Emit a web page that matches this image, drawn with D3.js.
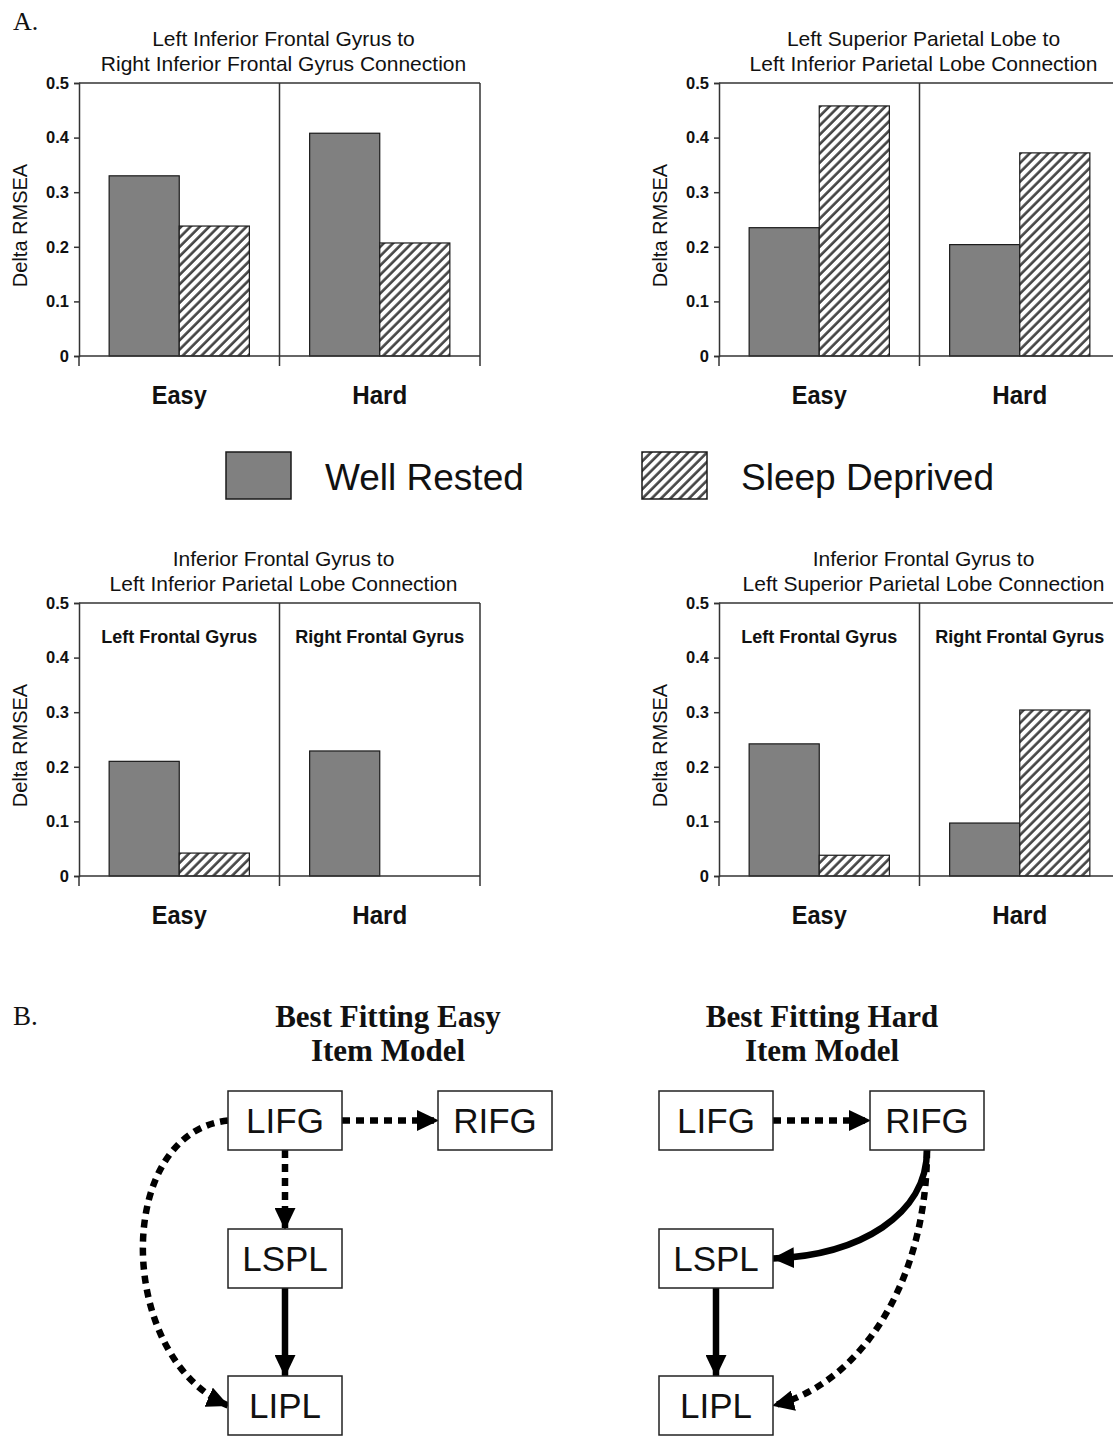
<!DOCTYPE html>
<html>
<head>
<meta charset="utf-8">
<script src="https://cdn.jsdelivr.net/npm/d3@7"></script>
<style>
  body { margin: 0; background: #fff; }
  svg { display: block; }
  text { font-family: "Liberation Sans", Arial, Helvetica, sans-serif; fill: #111; }
  .serif { font-family: "Liberation Serif", "Times New Roman", serif; }
</style>
</head>
<body>
<div id="chart"></div>
<script>
// ---- data ----
const groups = ['Easy', 'Hard'];
const series = ['Well Rested', 'Sleep Deprived'];
const yTicks = [0, 0.1, 0.2, 0.3, 0.4, 0.5];

const panelTitles = [
  ['Left Inferior Frontal Gyrus to', 'Right Inferior Frontal Gyrus Connection'],
  ['Left Superior Parietal Lobe to', 'Left Inferior Parietal Lobe Connection'],
  ['Inferior Frontal Gyrus to', 'Left Inferior Parietal Lobe Connection'],
  ['Inferior Frontal Gyrus to', 'Left Superior Parietal Lobe Connection']
];
const panelSubLabels = [
  null,
  null,
  ['Left Frontal Gyrus', 'Right Frontal Gyrus'],
  ['Left Frontal Gyrus', 'Right Frontal Gyrus']
];
// [Easy, Hard] per panel
const wellRested    = [[0.330, 0.408], [0.235, 0.204], [0.210, 0.229], [0.242, 0.097]];
const sleepDeprived = [[0.238, 0.207], [0.458, 0.372], [0.042, 0.000], [0.038, 0.304]];

// path model diagrams
const modelTitles = [['Best Fitting Easy', 'Item Model'], ['Best Fitting Hard', 'Item Model']];
const nodeNames = ['LIFG', 'RIFG', 'LSPL', 'LIPL'];
const nodeCol = { LIFG: 0, RIFG: 1, LSPL: 0, LIPL: 0 };
const nodeRow = { LIFG: 0, RIFG: 0, LSPL: 1, LIPL: 2 };
const easyEdges = [
  ['LIFG', 'RIFG', 'dotted'],
  ['LIFG', 'LSPL', 'dotted'],
  ['LSPL', 'LIPL', 'solid'],
  ['LIFG', 'LIPL', 'dotted']
];
const hardEdges = [
  ['LIFG', 'RIFG', 'dotted'],
  ['RIFG', 'LSPL', 'solid'],
  ['RIFG', 'LIPL', 'dotted'],
  ['LSPL', 'LIPL', 'solid']
];

// ---- drawing ----
const W = 1113, H = 1436;
const svg = d3.select('#chart').append('svg')
  .attr('width', W).attr('height', H)
  .attr('viewBox', `0 0 ${W} ${H}`);

svg.append('rect').attr('width', W).attr('height', H).attr('fill', '#fff');

const defs = svg.append('defs');
const hp = 6.6; // hatch period (perpendicular)
defs.append('pattern')
  .attr('id', 'hatch')
  .attr('patternUnits', 'userSpaceOnUse')
  .attr('width', hp).attr('height', hp)
  .attr('patternTransform', 'rotate(45)')
  .call(p => p.append('rect').attr('width', hp).attr('height', hp).attr('fill', '#fff'))
  .append('line')
  .attr('x1', 1.5).attr('y1', 0).attr('x2', 1.5).attr('y2', hp)
  .attr('stroke', '#444').attr('stroke-width', 2.6);

defs.append('marker')
  .attr('id', 'arrow')
  .attr('markerUnits', 'userSpaceOnUse')
  .attr('viewBox', '0 0 22 21')
  .attr('refX', 21).attr('refY', 10.5)
  .attr('markerWidth', 22).attr('markerHeight', 21)
  .attr('orient', 'auto')
  .append('path')
  .attr('d', 'M0,0 L22,10.5 L0,21 Z')
  .attr('fill', '#000');

const fillFor = s => s === series[0] ? '#808080' : 'url(#hatch)';

// panel-letter labels
svg.append('text').attr('class', 'serif').attr('x', 13).attr('y', 30)
  .attr('font-size', 26).text('A.');
svg.append('text').attr('class', 'serif').attr('x', 13).attr('y', 1025)
  .attr('font-size', 27).text('B.');

const panelLayout = [
  { x0: 79, top: 83 }, { x0: 719, top: 83 },
  { x0: 79, top: 603 }, { x0: 719, top: 603 }
];
const plotW = 401, plotH = 273;

panelLayout.forEach((pl, i) => {
  const g = svg.append('g');
  const x = d3.scaleBand().domain(groups).range([pl.x0, pl.x0 + plotW]);
  const xs = d3.scaleBand().domain(series).range([0, x.bandwidth()])
    .paddingInner(0).paddingOuter(0.43);
  const y = d3.scaleLinear().domain([0, 0.5]).range([pl.top + plotH, pl.top]);
  const base = y(0);

  // frame: top, right and divider
  const frame = g.append('g').attr('stroke', '#333').attr('stroke-width', 1.5);
  frame.append('line').attr('x1', pl.x0).attr('x2', pl.x0 + plotW).attr('y1', y(0.5)).attr('y2', y(0.5));
  frame.append('line').attr('x1', pl.x0 + plotW).attr('x2', pl.x0 + plotW).attr('y1', y(0.5)).attr('y2', base);
  frame.append('line').attr('x1', x('Hard')).attr('x2', x('Hard')).attr('y1', y(0.5)).attr('y2', base);

  // bars
  const rows = groups.map((grp, gi) => ({
    grp, values: [wellRested[i][gi], sleepDeprived[i][gi]]
  }));
  g.append('g').selectAll('g').data(rows).join('g')
    .attr('transform', d => `translate(${x(d.grp)},0)`)
    .selectAll('rect')
    .data(d => d.values.map((v, si) => ({ s: series[si], v })).filter(e => e.v > 0))
    .join('rect')
    .attr('x', d => xs(d.s))
    .attr('width', xs.bandwidth())
    .attr('y', d => y(d.v))
    .attr('height', d => base - y(d.v))
    .attr('fill', d => fillFor(d.s))
    .attr('stroke', '#1a1a1a')
    .attr('stroke-width', 1.2);

  // y axis
  const yAxis = g.append('g')
    .attr('transform', `translate(${pl.x0},0)`)
    .call(d3.axisLeft(y).tickValues(yTicks).tickSize(5).tickPadding(5)
      .tickFormat(d => d === 0 ? '0' : d3.format('.1f')(d)));
  yAxis.select('.domain').attr('stroke', '#333').attr('stroke-width', 1.5);
  yAxis.selectAll('.tick line').attr('stroke', '#333').attr('stroke-width', 1.5);
  yAxis.selectAll('.tick text')
    .style('font-size', '16.5px').style('font-weight', 'bold')
    .attr('fill', '#111');

  // x baseline with category separators
  const xa = g.append('g').attr('stroke', '#333').attr('stroke-width', 1.5);
  xa.append('line').attr('x1', pl.x0).attr('x2', pl.x0 + plotW).attr('y1', base).attr('y2', base);
  xa.selectAll('line.sep').data([pl.x0, x('Hard'), pl.x0 + plotW]).join('line')
    .attr('class', 'sep')
    .attr('x1', d => d).attr('x2', d => d).attr('y1', base).attr('y2', base + 10);

  g.selectAll('text.cat').data(groups).join('text')
    .attr('class', 'cat')
    .attr('x', d => x(d) + x.bandwidth() / 2)
    .attr('y', base + 48)
    .attr('text-anchor', 'middle')
    .attr('font-size', 25).attr('font-weight', 'bold')
    .attr('textLength', 55).attr('lengthAdjust', 'spacingAndGlyphs')
    .text(d => d);

  // axis title
  g.append('text')
    .attr('transform', `translate(${pl.x0 - 52},${(y(0) + y(0.5)) / 2 + 6}) rotate(-90)`)
    .attr('text-anchor', 'middle')
    .attr('font-size', 20)
    .text('Delta RMSEA');

  // chart title
  const cx = pl.x0 + plotW / 2 + 4;
  g.selectAll('text.title').data(panelTitles[i]).join('text')
    .attr('class', 'title')
    .attr('x', cx)
    .attr('y', (d, li) => pl.top - 37 + li * 25)
    .attr('text-anchor', 'middle')
    .attr('font-size', 21)
    .attr('fill', '#222')
    .text(d => d);

  if (panelSubLabels[i]) {
    g.selectAll('text.sub').data(panelSubLabels[i]).join('text')
      .attr('class', 'sub')
      .attr('x', (d, gi) => x(groups[gi]) + x.bandwidth() / 2)
      .attr('y', pl.top + 40)
      .attr('text-anchor', 'middle')
      .attr('font-size', 18).attr('font-weight', 'bold')
      .text(d => d);
  }
});

// legend
const legend = svg.append('g');
const legendX = d3.scaleOrdinal().domain(series).range([226, 642]);
legend.selectAll('rect').data(series).join('rect')
  .attr('x', d => legendX(d)).attr('y', 452)
  .attr('width', 65).attr('height', 47)
  .attr('fill', d => fillFor(d))
  .attr('stroke', '#1a1a1a').attr('stroke-width', 1.5);
legend.selectAll('text').data(series).join('text')
  .attr('x', d => legendX(d) + 99).attr('y', 490)
  .attr('font-size', 37)
  .text(d => d);

// path diagrams
const boxW = 114, boxH = 59;
const diagramCols = [[228, 438], [659, 870]];
const rowY = d3.scaleOrdinal().domain([0, 1, 2]).range([1091, 1229, 1376]);

function edgePath(s, t) {
  if (nodeRow[s.id] === nodeRow[t.id]) {
    return `M${s.x + boxW},${s.cy} L${t.x},${t.cy}`;
  }
  if (nodeCol[s.id] === nodeCol[t.id]) {
    if (nodeRow[t.id] - nodeRow[s.id] === 1) {
      return `M${s.cx},${s.y + boxH} L${t.cx},${t.y}`;
    }
    // loop round the left side
    return `M${s.x},${s.cy} C${s.x - 115},${s.cy + 12} ${t.x - 112},${t.cy - 48} ${t.x},${t.cy}`;
  }
  // from right column down to left column
  const sx = s.cx, sy = s.y + boxH, tx = t.x + boxW, ty = t.cy;
  const dy = ty - sy;
  const k1 = nodeRow[t.id] - nodeRow[s.id] === 1 ? 0.6 : 0.52;
  const k2 = nodeRow[t.id] - nodeRow[s.id] === 1 ? 0.03 : 0.08;
  return `M${sx},${sy} C${sx},${sy + k1 * dy} ${tx + 0.56 * (sx - tx)},${ty - k2 * dy} ${tx},${ty}`;
}

[easyEdges, hardEdges].forEach((edges, di) => {
  const g = svg.append('g');
  const colX = d3.scaleOrdinal().domain([0, 1]).range(diagramCols[di]);
  const nodes = nodeNames.map(id => {
    const x = colX(nodeCol[id]), y = rowY(nodeRow[id]);
    return { id, x, y, cx: x + boxW / 2, cy: y + boxH / 2 };
  });
  const byId = Object.fromEntries(nodes.map(n => [n.id, n]));

  const titleX = di === 0 ? 388 : 822;
  g.selectAll('text.mt').data(modelTitles[di]).join('text')
    .attr('class', 'mt serif')
    .attr('x', titleX)
    .attr('y', (d, li) => 1027 + li * 34)
    .attr('text-anchor', 'middle')
    .attr('font-size', 31).attr('font-weight', 'bold')
    .text(d => d);

  g.append('g').selectAll('path').data(edges).join('path')
    .attr('d', d => edgePath(byId[d[0]], byId[d[1]]))
    .attr('fill', 'none')
    .attr('stroke', '#000')
    .attr('stroke-width', 6.5)
    .attr('stroke-dasharray', d => d[2] === 'dotted' ? '8,6' : null)
    .attr('marker-end', 'url(#arrow)');

  const ng = g.append('g').selectAll('g').data(nodes).join('g')
    .attr('transform', d => `translate(${d.x},${d.y})`);
  ng.append('rect')
    .attr('width', boxW).attr('height', boxH)
    .attr('fill', '#fff')
    .attr('stroke', '#222').attr('stroke-width', 1.5);
  ng.append('text')
    .attr('x', boxW / 2).attr('y', boxH / 2 + 12)
    .attr('text-anchor', 'middle')
    .attr('font-size', 35)
    .text(d => d.id);
});
</script>
</body>
</html>
